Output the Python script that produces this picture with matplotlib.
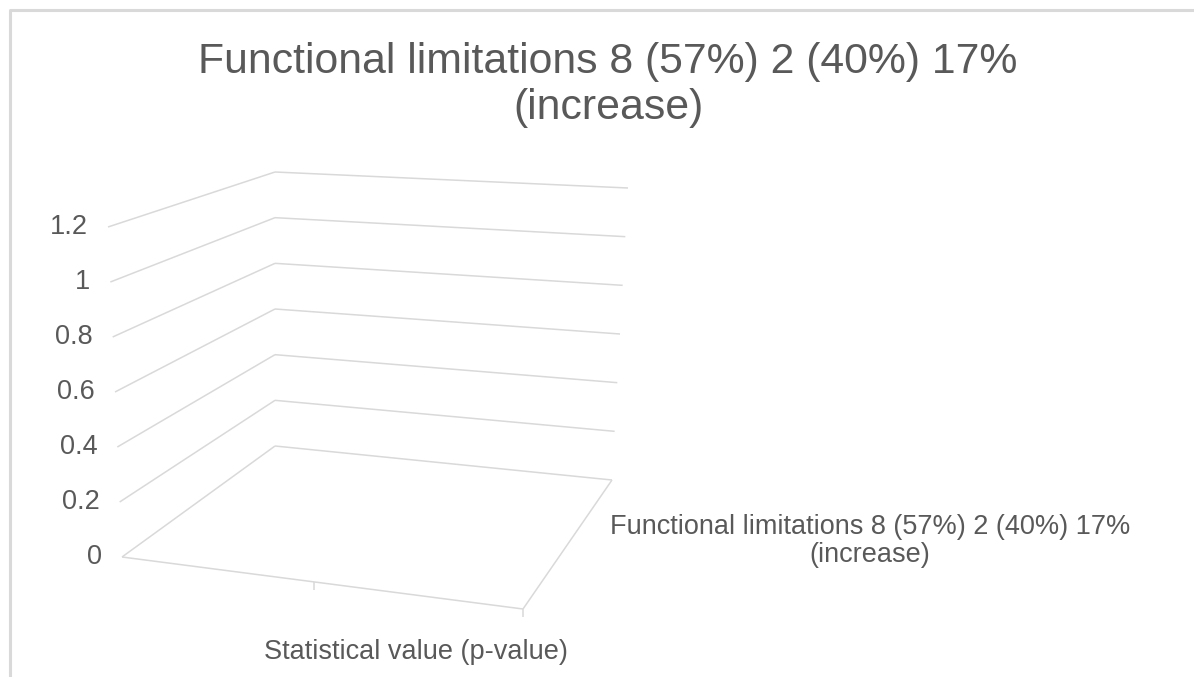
import numpy as np
import matplotlib
matplotlib.use("Agg")
import matplotlib.pyplot as plt

# chart content
title = "Functional limitations 8 (57%) 2 (40%) 17%\n(increase)"
categories = ["Statistical value (p-value)"]
series_names = ["Functional limitations 8 (57%) 2 (40%) 17%\n(increase)"]
values = [0.0]                      # no visible column in the picture
value_ticks = [0, 0.2, 0.4, 0.6, 0.8, 1, 1.2]
tick_labels = ["0", "0.2", "0.4", "0.6", "0.8", "1", "1.2"]

W, H = 1194, 677
zmax = value_ticks[-1]
grid_col = "#d9d9d9"
text_col = "#595959"
plt.rcParams["font.family"] = ["Liberation Sans", "DejaVu Sans"]

# projection of the Excel 3D box (u: category, v: depth, z: value) -> pixels
floor = {(0, 0): (122, 557), (1, 0): (523, 609), (0, 1): (275, 446), (1, 1): (612, 480)}
top = {(0, 0): (108, 227), (1, 0): (525, 257), (0, 1): (275, 172), (1, 1): (628, 188)}


def bilin(c, u, v):
    p = np.array([(1 - u) * (1 - v), u * (1 - v), (1 - u) * v, u * v])
    pts = np.array([c[(0, 0)], c[(1, 0)], c[(0, 1)], c[(1, 1)]], dtype=float)
    return p @ pts


def proj(u, v, z):
    t = z / zmax
    return (1 - t) * bilin(floor, u, v) + t * bilin(top, u, v)


def seg(ax, a, b, **kw):
    ax.plot([a[0], b[0]], [a[1], b[1]], color=grid_col, lw=1.1,
            solid_capstyle="butt", **kw)


fig = plt.figure(figsize=(W / 100, H / 100), dpi=100)
ax = fig.add_axes([0, 0, 1, 1])
ax.set_xlim(0, W)
ax.set_ylim(H, 0)
ax.axis("off")

# chart area border (only top and left edges are in view)
ax.plot([9.5, 9.5, W], [H, 9.5, 9.5], color=grid_col, lw=2.2)

# gridlines on the left and back walls
for z, lab in zip(value_ticks, tick_labels):
    fl, bl, br = proj(0, 0, z), proj(0, 1, z), proj(1, 1, z)
    seg(ax, fl, bl)
    seg(ax, bl, br)
    ax.text(fl[0] - 20, fl[1], lab, ha="right", va="center",
            fontsize=19.5, color=text_col)

# floor edges and category ticks
seg(ax, proj(0, 0, 0), proj(1, 0, 0))
seg(ax, proj(1, 0, 0), proj(1, 1, 0))
for u in [0.48, 1.0]:
    p = proj(u, 0, 0)
    seg(ax, p, (p[0], p[1] + 8))

# columns (zero height here, so nothing shows)
for i, val in enumerate(values):
    u0, u1 = 0.3 + i, 0.7 + i
    poly = [proj(u0, 0.3, 0), proj(u1, 0.3, 0), proj(u1, 0.3, val), proj(u0, 0.3, val)]
    ax.fill([q[0] for q in poly], [q[1] for q in poly], color="#4472c4", lw=0)

# titles and axis labels
ax.text(608, 85, title, ha="center", va="center", fontsize=30.8,
        color=text_col, linespacing=1.2)
ax.text(416, 652, categories[0], ha="center", va="center",
        fontsize=19.5, color=text_col)
ax.text(870, 541, series_names[0], ha="center", va="center",
        fontsize=19.5, color=text_col, linespacing=1.05)

fig.savefig("out.png", dpi=100)
